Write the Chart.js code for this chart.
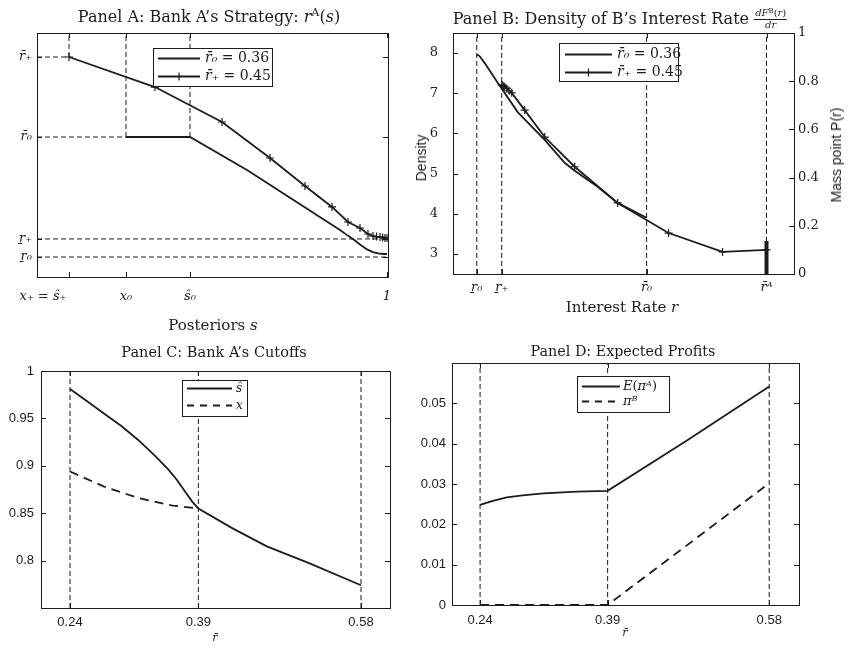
<!DOCTYPE html>
<html>
<head>
<meta charset="utf-8">
<title>Bank A / Bank B panels</title>
<script src="https://cdn.jsdelivr.net/npm/chart.js@4.4.0/dist/chart.umd.min.js"></script>
<style>
  body { margin: 0; background: #fff; }
  #page { position: relative; width: 849px; height: 648px; overflow: hidden; background: #fff; color: #1c1c1c; }
  .panel { position: absolute; }
  .txt { position: absolute; white-space: nowrap; font-family: "DejaVu Serif", serif; line-height: 1; transform: translateX(-50%); }
  .sans { font-family: "Liberation Sans", Arial, sans-serif; }
  .rot { transform: translate(-50%, -50%) rotate(-90deg); }
  sup { font-size: 0.7em; vertical-align: 0.5em; line-height: 0; }
  .frac { display: inline-block; vertical-align: middle; text-align: center; font-size: 10px; line-height: 1.05; }
  .frac .num { display: block; border-bottom: 1px solid #1c1c1c; padding: 0 1px; }
  .frac .den { display: block; }
</style>
</head>
<body>
<div id="page">
  <div class="panel" style="left:0;top:0"><canvas id="chartA" width="420" height="320"></canvas></div>
  <div class="panel" style="left:420px;top:0"><canvas id="chartB" width="429" height="320"></canvas></div>
  <div class="panel" style="left:0;top:320px"><canvas id="chartC" width="420" height="328"></canvas></div>
  <div class="panel" style="left:400px;top:320px"><canvas id="chartD" width="449" height="328"></canvas></div>

  <div class="txt" style="left:209px;top:9px;font-size:16px">Panel A: Bank A’s Strategy: <i>r</i><sup>A</sup>(<i>s</i>)</div>
  <div class="txt" style="left:620px;top:8px;font-size:16px">Panel B: Density of B’s Interest Rate <span class="frac"><span class="num"><i>dF</i><sup>B</sup>(<i>r</i>)</span><span class="den"><i>dr</i></span></span></div>
  <div class="txt" style="left:213px;top:318px;font-size:15px">Posteriors <i>s</i></div>
  <div class="txt" style="left:622px;top:300px;font-size:15px">Interest Rate <i>r</i></div>
  <div class="txt sans rot" style="left:421px;top:158px;font-size:14px">Density</div>
  <div class="txt sans rot" style="left:836px;top:155px;font-size:14px">Mass point P(r)</div>
  <div class="txt" style="left:214px;top:345px;font-size:14.5px">Panel C: Bank A’s Cutoffs</div>
  <div class="txt" style="left:623px;top:344px;font-size:14.3px">Panel D: Expected Profits</div>
  <div class="txt" style="left:215px;top:632px;font-size:11px"><i>r̄</i></div>
  <div class="txt" style="left:625px;top:627px;font-size:11px"><i>r̄</i></div>
</div>

<script>
// Panel A: bank A's strategy r^A(s)
const aTickS = [0.0914, 0.2543, 0.4371, 1.0]
const aTickSLabels = ["x₊ = ŝ₊\u2003\u2003\u2003\u2003", "x₀", "ŝ₀", "1"]
const aTickR = [0.225, 0.2453, 0.36, 0.45]
const aTickRLabels = ["r\u0331₀", "r\u0331₊", "r̄₀", "r̄₊"]
const aS0 = [0.2543, 0.4371, 0.6, 0.8657, 0.89, 0.9086, 0.9229, 0.9429, 0.96, 0.975, 0.99, 1.0]
const aR0 = [0.36, 0.36, 0.3229, 0.2554, 0.2485, 0.2435, 0.239, 0.2335, 0.2305, 0.229, 0.2284, 0.2284]
const aSPlus = [0.0914, 0.337, 0.5286, 0.6657, 0.7657, 0.8429, 0.8886, 0.9229, 0.9457, 0.96, 0.97, 0.98, 0.9875, 0.9943, 1.0]
const aRPlus = [0.45, 0.4162, 0.3769, 0.3364, 0.3049, 0.2813, 0.2644, 0.2576, 0.2509, 0.2486, 0.248, 0.2475, 0.247, 0.2464, 0.2464]

// Panel B: density of B's interest rate
const bTickR = [0.224, 0.244, 0.36, 0.456]
const bTickRLabels = ["r\u0331₀", "r\u0331₊", "r̄₀", "r̄ᴬ"]
const bTickDensity = [3, 4, 5, 6, 7, 8]
const bTickMass = [0, 0.2, 0.4, 0.6, 0.8, 1]
const bR0 = [0.224, 0.2252, 0.2264, 0.2304, 0.2408, 0.2568, 0.2784, 0.2944, 0.3024, 0.3208, 0.3368, 0.36]
const bDens0 = [7.95, 7.95, 7.92, 7.75, 7.26, 6.53, 5.84, 5.27, 5.07, 4.67, 4.27, 3.9]
const bRPlus = [0.244, 0.2448, 0.2456, 0.2464, 0.248, 0.25, 0.252, 0.2624, 0.2784, 0.3024, 0.3368, 0.3776, 0.4208, 0.456]
const bDensPlus = [7.21, 7.19, 7.17, 7.16, 7.12, 7.06, 7.01, 6.58, 5.91, 5.17, 4.27, 3.52, 3.05, 3.1]
const bMassR = [0.456, 0.456]
const bMassP = [0, 0.137]

// Panel C: bank A's cutoffs
const cTickRbar = [0.24, 0.39, 0.58]
const cTickCutoff = [0.8, 0.85, 0.9, 0.95, 1]
const cRbarHat = [0.24, 0.26, 0.28, 0.3, 0.32, 0.34, 0.355, 0.365, 0.375, 0.383, 0.39, 0.43, 0.47, 0.52, 0.58]
const cSHat = [0.981, 0.968, 0.955, 0.942, 0.927, 0.91, 0.896, 0.885, 0.872, 0.862, 0.855, 0.834, 0.815, 0.797, 0.774]
const cRbarX = [0.24, 0.26, 0.28, 0.3, 0.32, 0.34, 0.36, 0.39]
const cX = [0.894, 0.886, 0.878, 0.872, 0.866, 0.862, 0.858, 0.855]

// Panel D: expected profits
const dTickRbar = [0.24, 0.39, 0.58]
const dTickProfit = [0, 0.01, 0.02, 0.03, 0.04, 0.05]
const dRbarA = [0.24, 0.255, 0.2714, 0.29, 0.3145, 0.3538, 0.39, 0.4832, 0.58]
const dProfitA = [0.0248, 0.0258, 0.0267, 0.0272, 0.0277, 0.0281, 0.0283, 0.0408, 0.0542]
const dRbarB = [0.24, 0.39, 0.58]
const dProfitB = [0, 0, 0.0302]

const ink = "#1c1c1c"
const serif = "DejaVu Serif"
const sans = "Liberation Sans"

const pts = (xs, ys) => xs.map((x, i) => ({ x, y: ys[i] }))

function curve(label, xs, ys, extra) {
  return Object.assign({
    label, data: pts(xs, ys), borderColor: ink, backgroundColor: ink,
    borderWidth: 1.8, pointRadius: 0, tension: 0, fill: false,
  }, extra)
}

// thin dashed guide line
function guide(xs, ys, axis) {
  return {
    label: "", data: pts(xs, ys), borderColor: ink, borderWidth: 1,
    borderDash: [5, 3], pointRadius: 0, fill: false, yAxisID: axis || "y",
  }
}

function fixedAxis(position, min, max, values, labels, size, font, pad) {
  return {
    type: "linear", position, min, max,
    afterBuildTicks: (axis) => { axis.ticks = values.map((v) => ({ value: v })) },
    afterFit: (axis) => { if (axis.isHorizontal()) axis.height = size; else axis.width = size },
    ticks: { autoSkip: false, maxRotation: 0, minRotation: 0, padding: pad, color: ink, font, callback: (v, i) => labels[i] },
    grid: { display: false, drawTicks: false },
    border: { display: false },
  }
}

// box around the plot and inward tick marks like the original figure
const boxFrame = {
  id: "boxFrame",
  afterDatasetsDraw(chart) {
    const { ctx, chartArea: a } = chart
    const len = 5
    const yCount = Object.values(chart.scales).filter((s) => !s.isHorizontal()).length
    ctx.save()
    ctx.strokeStyle = ink
    ctx.lineWidth = 1
    ctx.setLineDash([])
    ctx.strokeRect(Math.round(a.left) + 0.5, Math.round(a.top) + 0.5, Math.round(a.width), Math.round(a.height))
    ctx.beginPath()
    Object.values(chart.scales).forEach((scale) => {
      scale.ticks.forEach((t) => {
        const p = Math.round(scale.getPixelForValue(t.value)) + 0.5
        if (scale.isHorizontal()) {
          ctx.moveTo(p, a.bottom); ctx.lineTo(p, a.bottom - len)
          ctx.moveTo(p, a.top); ctx.lineTo(p, a.top + len)
        } else {
          if (scale.position === "left" || yCount === 1) { ctx.moveTo(a.left, p); ctx.lineTo(a.left + len, p) }
          if (scale.position === "right" || yCount === 1) { ctx.moveTo(a.right, p); ctx.lineTo(a.right - len, p) }
        }
      })
    })
    ctx.stroke()
    ctx.restore()
  },
}

// boxed legend drawn inside the plot area
const boxLegend = {
  id: "boxLegend",
  afterDraw(chart, args, opts) {
    if (!opts.box) return
    const ctx = chart.ctx
    const [x, y, w, h] = opts.box
    ctx.save()
    ctx.fillStyle = "#fff"
    ctx.fillRect(x, y, w, h)
    ctx.strokeStyle = ink
    ctx.lineWidth = 1
    ctx.strokeRect(x + 0.5, y + 0.5, w, h)
    opts.items.forEach((it, i) => {
      const ds = chart.data.datasets[it.ds]
      const ly = y + opts.rows[i] + 0.5
      ctx.beginPath()
      ctx.setLineDash(it.dash || ds.borderDash || [])
      ctx.lineWidth = ds.borderWidth
      ctx.strokeStyle = ds.borderColor
      ctx.moveTo(x + opts.line[0], ly)
      ctx.lineTo(x + opts.line[1], ly)
      ctx.stroke()
      ctx.setLineDash([])
      if (ds.pointStyle === "cross") {
        const mx = x + (opts.line[0] + opts.line[1]) / 2
        ctx.beginPath()
        ctx.lineWidth = 1.2
        ctx.moveTo(mx, ly - 4); ctx.lineTo(mx, ly + 4)
        ctx.stroke()
      }
      let tx = x + opts.textX
      ctx.fillStyle = ink
      ctx.textBaseline = "middle"
      it.text.forEach(([s, italic]) => {
        ctx.font = (italic ? "italic " : "") + opts.size + "px " + serif
        ctx.fillText(s, tx, ly)
        tx += ctx.measureText(s).width
      })
    })
    ctx.restore()
  },
}

function baseOptions(pad, scales, legend) {
  return {
    responsive: false, animation: false, events: [],
    layout: { autoPadding: false, padding: pad },
    scales,
    plugins: { legend: { display: false }, tooltip: { enabled: false }, title: { display: false }, boxLegend: legend },
  }
}

const marks = { pointStyle: "cross", pointRadius: 4, pointBorderWidth: 1.2, pointBorderColor: ink }

// Panel A
new Chart(document.getElementById("chartA"), {
  type: "line",
  data: {
    datasets: [
      curve("r0", aS0, aR0),
      curve("r+", aSPlus, aRPlus, marks),
      guide([0, aTickS[0]], [aTickR[3], aTickR[3]]),
      guide([aTickS[0], aTickS[0]], [aTickR[3], 0.477]),
      guide([0, aTickS[1]], [aTickR[2], aTickR[2]]),
      guide([aTickS[1], aTickS[1]], [aTickR[2], 0.477]),
      guide([aTickS[2], aTickS[2]], [aTickR[2], 0.477]),
      guide([0, 1.003], [aTickR[1], aTickR[1]]),
      guide([0, 1.003], [aTickR[0], aTickR[0]]),
    ],
  },
  options: baseOptions({ top: 33, right: 32, left: 0, bottom: 0 }, {
    x: fixedAxis("bottom", 0, 1.00286, aTickS, aTickSLabels, 43, { family: serif, size: 13, style: "italic" }, 12),
    y: fixedAxis("left", 0.2025, 0.477, aTickR, aTickRLabels, 37, { family: serif, size: 13, style: "italic" }, 5),
  }, {
    box: [153, 48, 119, 38], rows: [10, 28], line: [5, 47], textX: 52, size: 14,
    items: [
      { ds: 0, text: [["r̄₀", true], [" = 0.36", false]] },
      { ds: 1, text: [["r̄₊", true], [" = 0.45", false]] },
    ],
  }),
  plugins: [boxFrame, boxLegend],
})

// Panel B
new Chart(document.getElementById("chartB"), {
  type: "line",
  data: {
    datasets: [
      curve("r0", bR0, bDens0),
      curve("r+", bRPlus, bDensPlus, marks),
      curve("mass", bMassR, bMassP, { yAxisID: "y1", borderWidth: 4 }),
      guide([bTickR[0], bTickR[0]], [2.5, 8.5]),
      guide([bTickR[1], bTickR[1]], [2.5, 8.5]),
      guide([bTickR[2], bTickR[2]], [2.5, 8.5]),
      guide([bTickR[3], bTickR[3]], [2.5, 8.5]),
    ],
  },
  options: baseOptions({ top: 33, right: 0, left: 0, bottom: 0 }, {
    x: fixedAxis("bottom", 0.205, 0.478, bTickR, bTickRLabels, 46, { family: serif, size: 13, style: "italic" }, 6),
    y: fixedAxis("left", 2.5, 8.5, bTickDensity, bTickDensity.map(String), 33, { family: serif, size: 13 }, 15),
    y1: fixedAxis("right", 0, 1, bTickMass, bTickMass.map(String), 55, { family: serif, size: 13 }, 4),
  }, {
    box: [139, 43, 119, 38], rows: [11, 29], line: [6, 53], textX: 58, size: 14,
    items: [
      { ds: 0, text: [["r̄₀", true], [" = 0.36", false]] },
      { ds: 1, text: [["r̄₊", true], [" = 0.45", false]] },
    ],
  }),
  plugins: [boxFrame, boxLegend],
})

// Panel C
new Chart(document.getElementById("chartC"), {
  type: "line",
  data: {
    datasets: [
      curve("s-hat", cRbarHat, cSHat),
      curve("x", cRbarX, cX, { borderDash: [9, 6] }),
      guide([cTickRbar[0], cTickRbar[0]], [0.75, 1]),
      guide([cTickRbar[1], cTickRbar[1]], [0.75, 1]),
      guide([cTickRbar[2], cTickRbar[2]], [0.75, 1]),
    ],
  },
  options: baseOptions({ top: 51, right: 30, left: 0, bottom: 0 }, {
    x: fixedAxis("bottom", 0.2061, 0.6139, cTickRbar, cTickRbar.map(String), 40, { family: sans, size: 13 }, 7),
    y: fixedAxis("left", 0.75, 1, cTickCutoff, cTickCutoff.map(String), 41, { family: sans, size: 13 }, 7),
  }, {
    box: [182, 60, 65, 36], rows: [8, 25], line: [5, 50], textX: 54, size: 12,
    items: [
      { ds: 0, text: [["ŝ", true]] },
      { ds: 1, text: [["x", true]], dash: [7, 6] },
    ],
  }),
  plugins: [boxFrame, boxLegend],
})

// Panel D
new Chart(document.getElementById("chartD"), {
  type: "line",
  data: {
    datasets: [
      curve("E(piA)", dRbarA, dProfitA),
      curve("piB", dRbarB, dProfitB, { borderDash: [9, 6] }),
      guide([dTickRbar[0], dTickRbar[0]], [0, 0.06]),
      guide([dTickRbar[1], dTickRbar[1]], [0, 0.06]),
      guide([dTickRbar[2], dTickRbar[2]], [0, 0.06]),
    ],
  },
  options: baseOptions({ top: 43, right: 50, left: 0, bottom: 0 }, {
    x: fixedAxis("bottom", 0.207, 0.615, dTickRbar, dTickRbar.map(String), 43, { family: sans, size: 13 }, 8),
    y: fixedAxis("left", 0, 0.06, dTickProfit, dTickProfit.map(String), 52, { family: sans, size: 13 }, 6),
  }, {
    box: [177, 56, 92, 36], rows: [10, 25], line: [5, 43], textX: 46, size: 13,
    items: [
      { ds: 0, text: [["E", true], ["(", false], ["πᴬ", true], [")", false]] },
      { ds: 1, text: [["πᴮ", true]], dash: [7, 6] },
    ],
  }),
  plugins: [boxFrame, boxLegend],
})
</script>
</body>
</html>
